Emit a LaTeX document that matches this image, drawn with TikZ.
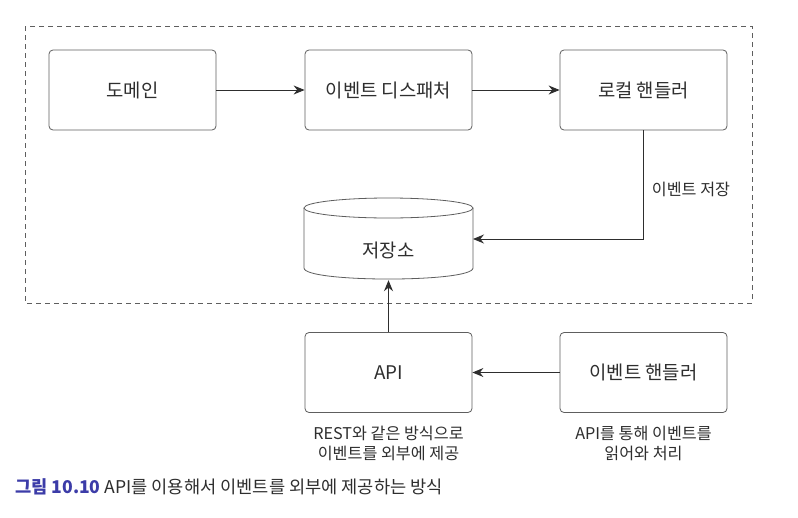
\documentclass[tikz,border=0pt]{standalone}
\usepackage{fontspec}
\setmainfont{Noto Sans CJK KR}
\usetikzlibrary{arrows.meta}
\definecolor{ink}{HTML}{2E2E2E}
\definecolor{edge}{HTML}{5E5E5E}
\definecolor{capblue}{HTML}{3C3CA8}
\tikzset{
  box/.style={draw=edge, line width=0.8pt, rounded corners=4pt, minimum width=167pt,
    minimum height=80pt, inner sep=0pt, text=ink, font=\fontsize{18.8}{22}\selectfont},
  note/.style={text=ink, align=center, inner sep=0pt, font=\fontsize{16.2}{20}\selectfont},
  flow/.style={draw=ink, line width=1pt, -{Stealth[length=11pt,width=9pt]}},
  frame/.style={draw=edge, line width=0.8pt, dash pattern=on 5pt off 4pt},
  cyl/.style={draw=edge, line width=0.8pt},
}
\begin{document}
\begin{tikzpicture}[x=1pt,y=-1pt]
  \useasboundingbox (0,0) rectangle (798,517);
  \fill[white] (0,0) rectangle (798,517);

  % outer dashed frame
  \draw[frame] (25,26) rectangle (752,303);

  % process boxes
  \node[box] (domain) at (132.5,90) {도메인};
  \node[box] (disp) at (388.5,90) {이벤트 디스패처};
  \node[box] (local) at (643.5,90) {로컬 핸들러};
  \node[box] (api) at (388.5,372.5) {API};
  \node[box] (handler) at (643.5,372.5) {이벤트 핸들러};

  % storage cylinder
  \node[minimum width=169pt, minimum height=72pt, inner sep=0pt] (db) at (388.5,244) {};
  \draw[cyl] (db.center |- 0,208) ellipse [x radius=84.5, y radius=10];
  \draw[cyl] (304,208) -- (304,268)
    .. controls (304,282.7) and (473,282.7) .. (473,268) -- (473,208);
  \node[text=ink, inner sep=0pt, font=\fontsize{18.8}{22}\selectfont] (dbtext) at (388.5,250) {저장소};
  \coordinate (dbin) at (473,239);

  % connectors
  \draw[flow] (domain) -- (disp);
  \draw[flow] (disp) -- (local);
  \draw[flow] (local.south) |- (dbin);
  \draw[flow] (api.north) -- (db.south);
  \draw[flow] (handler) -- (api);

  % labels
  \node[note] (storelbl) at (691,189) {이벤트 저장};
  \node[note] (apinote) at (388.5,443.5) {REST와 같은 방식으로\\이벤트를 외부에 제공};
  \node[note] (hnote) at (643.5,443.5) {API를 통해 이벤트를\\읽어와 처리};

  % caption
  \node[anchor=west, inner sep=0pt, font=\fontsize{17.6}{20}\selectfont] (cap) at (15,487)
    {\textcolor{capblue}{\bfseries 그림 10.10} \textcolor{ink}{API를 이용해서 이벤트를 외부에 제공하는 방식}};
\end{tikzpicture}
\end{document}
